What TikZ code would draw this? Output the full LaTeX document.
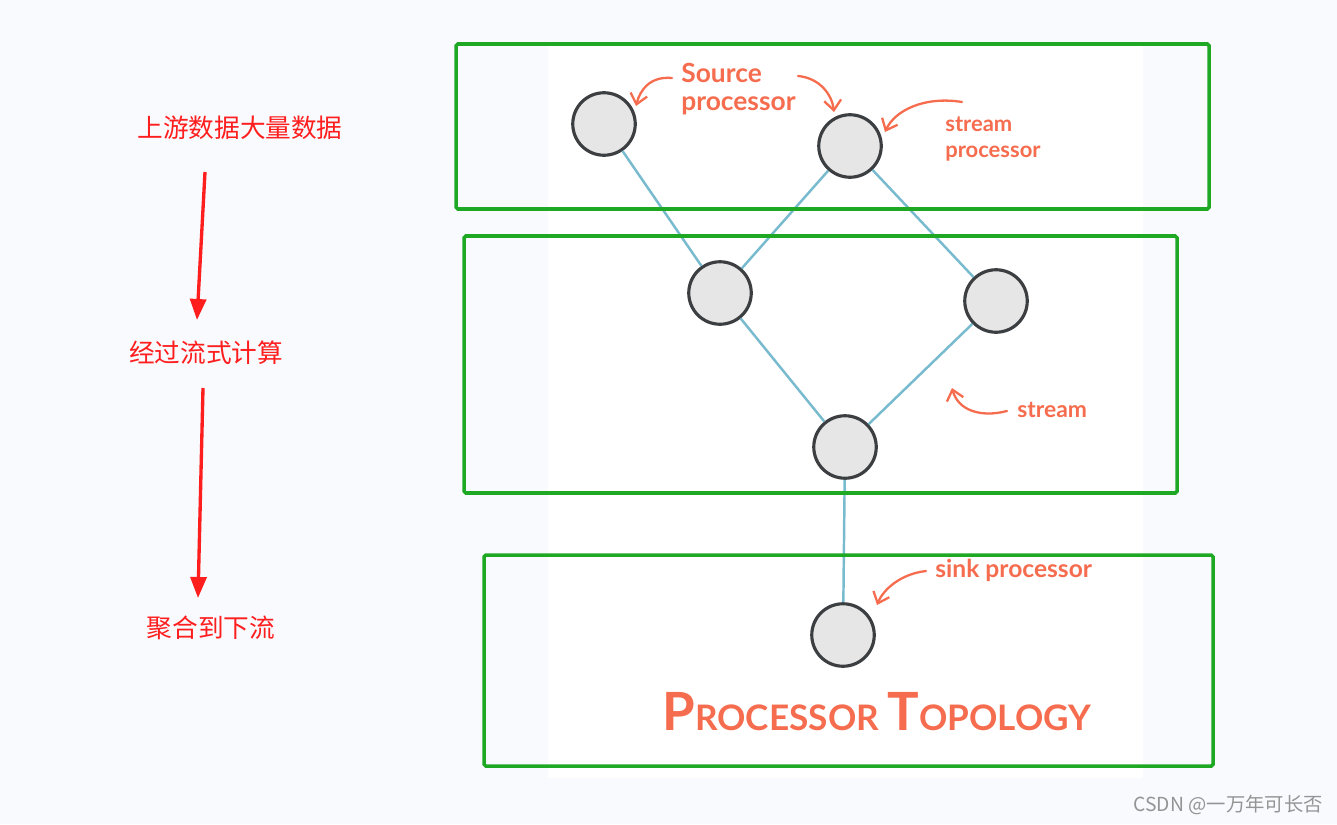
\documentclass[tikz,border=0pt]{standalone}
\usepackage{fontspec}
\setmainfont{Lato}
\newfontfamily\cjk{Noto Sans CJK SC}
\usepackage{tikz}
\usetikzlibrary{arrows.meta}
\usetikzlibrary{calc}
\definecolor{pagebg}{RGB}{248,250,254}
\definecolor{boxgreen}{RGB}{30,168,36}
\definecolor{procfill}{RGB}{230,230,230}
\definecolor{procline}{RGB}{60,63,66}
\definecolor{pipeblue}{RGB}{120,186,206}
\definecolor{sketch}{RGB}{246,108,78}
\definecolor{hint}{RGB}{255,30,30}
\tikzstyle{proc}=[draw=procline,fill=procfill,circle,minimum size=1.25cm,inner sep=0pt,line width=1.8pt]
\tikzstyle{pipe}=[draw=pipeblue,line width=1.4pt]
\tikzstyle{group}=[draw=boxgreen,line width=2pt,rounded corners=1pt]
\tikzstyle{note}=[draw=sketch,line width=1.3pt,line cap=round,-{Straight Barb[length=2mm,width=3.4mm]}]
\tikzstyle{flow}=[draw=hint,line width=1.9pt,-{Triangle[length=4.2mm,width=3.2mm]}]

\begin{document}
\begin{tikzpicture}[x=0.02cm,y=-0.02cm]
\tikzstyle{label}=[text=sketch,anchor=west,align=left,inner sep=0pt]
\tikzstyle{stage}=[text=hint,font=\cjk\fontsize{14.6pt}{17pt}\selectfont,inner sep=0pt]
    % page and sketch panel
    \fill[pagebg] (0,0) rectangle (1337,824);
    \fill[white] (548,45) rectangle (1143,778);
    \useasboundingbox (0,0) rectangle (1337,824);

    % processors
    \node [proc] (src) at (604,124) {};
    \node [proc] (sp) at (850,146) {};
    \node [proc] (mid) at (720,293) {};
    \node [proc] (right) at (996,301) {};
    \node [proc] (join) at (845,447) {};
    \node [proc] (sink) at (843,635) {};

    \draw[pipe] (src) -- (mid);
    \draw[pipe] (sp) -- (mid);
    \draw[pipe] (sp) -- (right);
    \draw[pipe] (mid) -- (join);
    \draw[pipe] (right) -- (join);
    \draw[pipe] (join) -- (sink);

    % sketch notes
    \node [label,font=\bfseries\fontsize{15pt}{16pt}\selectfont] (srcnote) at (681,89) {Source\\processor};
    \node [label,font=\bfseries\fontsize{12.5pt}{15pt}\selectfont] (spnote) at (945,139) {stream\\processor};
    \node [label,font=\bfseries\fontsize{13pt}{14pt}\selectfont] (pipenote) at (1017,410) {stream};
    \node [label,font=\bfseries\fontsize{14pt}{14pt}\selectfont] (sinknote) at (935,570) {sink processor};
    \node [text=sketch,inner sep=0pt,font=\bfseries] (title) at (877,712)
      {{\fontsize{30pt}{34pt}\selectfont P}{\fontsize{20pt}{24pt}\selectfont ROCESSOR}\hspace{0.5em}{\fontsize{30pt}{34pt}\selectfont T}{\fontsize{20pt}{24pt}\selectfont OPOLOGY}};

    \coordinate (n1) at (672,78);
    \coordinate (n2) at (798,76);
    \coordinate (n3) at (962,102);
    \coordinate (n4) at (1007,411);
    \coordinate (n5) at (926,571);
    \draw[note] (n1) .. controls (650,76) and (640,90) .. (636,106);
    \draw[note] (n2) .. controls (820,78) and (832,95) .. (834,112);
    \draw[note] (n3) .. controls (925,96) and (895,110) .. (885,132);
    \draw[note] (n4) .. controls (980,418) and (958,410) .. (952,388);
    \draw[note] (n5) .. controls (900,574) and (883,590) .. (877,605);

    % groups
    \draw[group] (456,44) rectangle (1209,209);
    \draw[group] (464,236) rectangle (1177,493);
    \draw[group] (484,555) rectangle (1213,766);

    % left side stages
    \node [stage] (up) at (240,128) {上游数据大量数据};
    \node [stage] (calc) at (206,353) {经过流式计算};
    \node [stage] (down) at (211,628) {聚合到下流};
    \coordinate (f1) at (205,172);
    \coordinate (f2) at (203,388);
    \draw[flow] (f1) -- (197,320);
    \draw[flow] (f2) -- (198,598);

    \node [text=black!42,anchor=east,inner sep=0pt,font=\cjk\fontsize{11pt}{13pt}\selectfont] (mark) at (1323,805) {CSDN @一万年可长否};
\end{tikzpicture}
\end{document}
